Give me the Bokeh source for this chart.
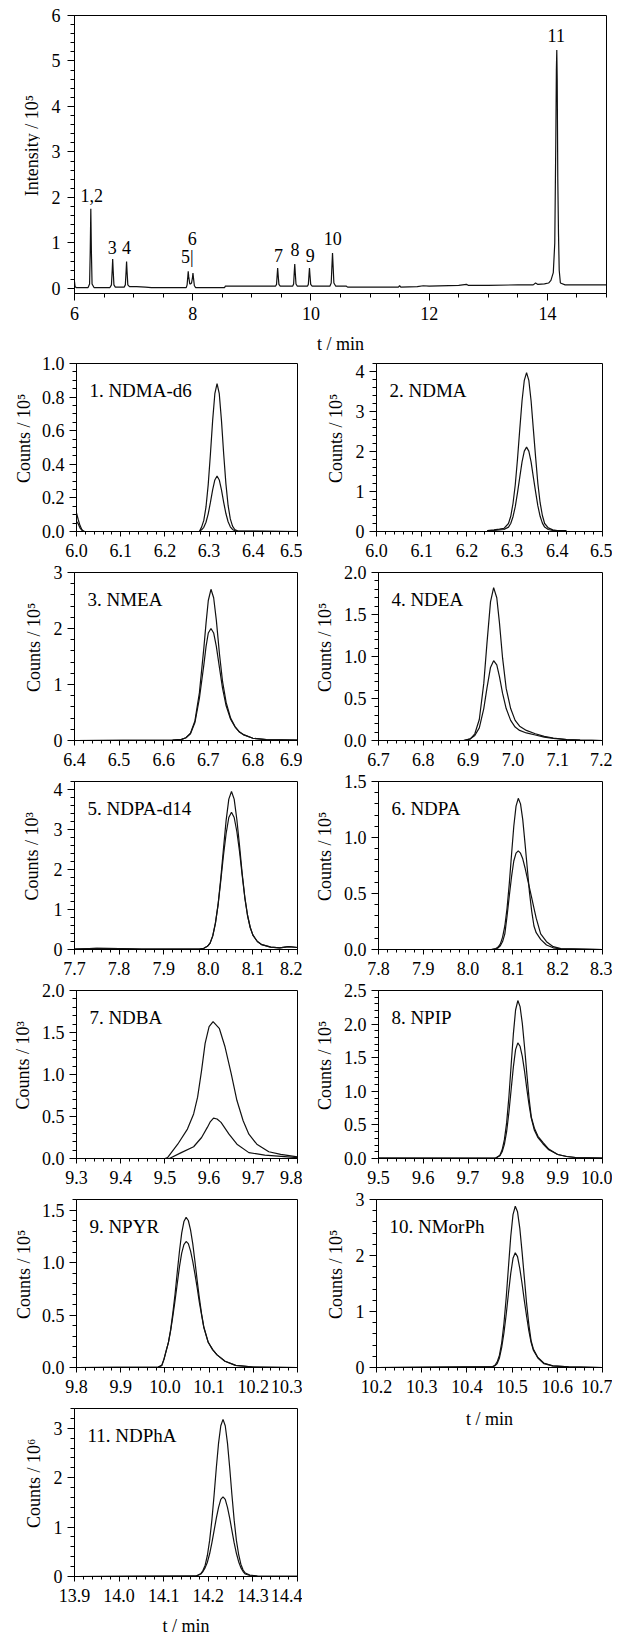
import math
from bokeh.plotting import figure
from bokeh.layouts import column, row
from bokeh.models import FixedTicker, PrintfTickFormatter, Label, Range1d
from bokeh.embed import file_html
from bokeh.resources import INLINE
from bokeh.core.properties import value

FONT = "Liberation Serif"
TICK_FS = "18px"
LAB_FS = "18px"
LINE = "#111111"

# ---------------- data: total chromatogram ----------------
tic_t = [6.00, 6.01, 6.03, 6.23, 6.255, 6.266, 6.276, 6.286, 6.297, 6.33,
         6.60, 6.625, 6.638, 6.646, 6.654, 6.667, 6.69,
         6.84, 6.86, 6.873, 6.881, 6.889, 6.902, 6.93,
         7.05, 7.20, 7.30,
         7.89, 7.905, 7.917, 7.924, 7.932, 7.95, 7.965, 7.98, 7.996, 8.004, 8.012, 8.028, 8.05,
         8.54, 8.55,
         9.40, 9.418, 9.429, 9.437, 9.445, 9.458, 9.48,
         9.69, 9.707, 9.718, 9.726, 9.734, 9.747, 9.77,
         9.94, 9.956, 9.967, 9.975, 9.983, 9.996, 10.02,
         10.32, 10.343, 10.356, 10.365, 10.374, 10.388, 10.42,
         10.60, 10.62, 11.48, 11.50, 11.52, 11.80, 11.90, 12.00, 12.50, 12.63,
         12.66, 12.70, 13.00, 13.50, 13.76, 13.80, 13.84, 13.95, 14.02,
         14.06, 14.10, 14.125, 14.142, 14.152, 14.159, 14.166, 14.176, 14.188, 14.20,
         14.22, 14.30, 15.00]
tic_y = [0.15, 0.04, 0.02, 0.02, 0.10, 0.80, 1.75, 0.80, 0.10, 0.02,
         0.02, 0.08, 0.40, 0.65, 0.40, 0.08, 0.03,
         0.03, 0.08, 0.38, 0.59, 0.38, 0.08, 0.04,
         0.04, 0.03, 0.02,
         0.02, 0.08, 0.26, 0.38, 0.26, 0.10, 0.10, 0.12, 0.24, 0.34, 0.24, 0.06, 0.02,
         0.02, 0.05,
         0.05, 0.09, 0.30, 0.45, 0.30, 0.09, 0.05,
         0.05, 0.10, 0.36, 0.54, 0.36, 0.10, 0.05,
         0.05, 0.09, 0.30, 0.45, 0.30, 0.09, 0.05,
         0.05, 0.12, 0.52, 0.78, 0.52, 0.12, 0.05,
         0.05, 0.03, 0.03, 0.06, 0.03, 0.04, 0.06, 0.05, 0.07, 0.09,
         0.07, 0.07, 0.07, 0.08, 0.08, 0.12, 0.09, 0.10, 0.12,
         0.18, 0.35, 1.00, 3.20, 4.80, 5.24, 4.60, 2.40, 1.20, 0.40,
         0.12, 0.08, 0.08]
peak_labels = ["1,2", "3", "4", "5|", "6", "7", "8", "9", "10", "11"]
peak_label_t = [6.29, 6.64, 6.88, 7.91, 7.99, 9.45, 9.73, 9.99, 10.37, 14.15]
peak_label_y = [2.04, 0.91, 0.91, 0.69, 1.09, 0.72, 0.85, 0.72, 1.10, 5.55]

# ---------------- data: extracted ion chromatograms ----------------
p1_t = [6.000, 6.004, 6.008, 6.012, 6.016, 6.020, 6.278, 6.283, 6.288, 6.293, 6.298, 6.303, 6.308,
        6.313, 6.318, 6.323, 6.328, 6.333, 6.338, 6.343, 6.348, 6.353, 6.358, 6.365, 6.500]
p1_a = [0.11, 0.07, 0.035, 0.012, 0.002, 0.0, 0.0, 0.026, 0.066, 0.146, 0.279, 0.461, 0.66,
        0.82, 0.88, 0.82, 0.66, 0.461, 0.285, 0.155, 0.075, 0.032, 0.012, 0.003, 0.0]
p1_b = [0.06, 0.045, 0.02, 0.008, 0.001, 0.0, 0.0, 0.01, 0.025, 0.055, 0.105, 0.173, 0.248,
        0.307, 0.33, 0.307, 0.248, 0.173, 0.107, 0.058, 0.028, 0.012, 0.005, 0.001, 0.0]

p2_t = [6.245, 6.260, 6.272, 6.282, 6.292, 6.297, 6.302, 6.307, 6.312, 6.317, 6.322, 6.327, 6.332,
        6.337, 6.342, 6.347, 6.352, 6.357, 6.362, 6.367, 6.372, 6.380, 6.390, 6.400, 6.420]
p2_a = [0.02, 0.04, 0.06, 0.08, 0.20, 0.38, 0.70, 1.17, 1.82, 2.56, 3.27, 3.78, 3.97,
        3.78, 3.27, 2.56, 1.86, 1.20, 0.72, 0.40, 0.20, 0.09, 0.04, 0.025, 0.02]
p2_b = [0.02, 0.03, 0.04, 0.05, 0.11, 0.20, 0.37, 0.62, 0.97, 1.36, 1.74, 2.01, 2.11,
        2.01, 1.74, 1.36, 0.99, 0.64, 0.38, 0.21, 0.11, 0.05, 0.025, 0.02, 0.015]

p3_t = [6.40, 6.62, 6.64, 6.65, 6.66, 6.67, 6.68, 6.69, 6.695, 6.70, 6.706, 6.712, 6.718,
        6.725, 6.732, 6.74, 6.75, 6.76, 6.77, 6.78, 6.80, 6.83, 6.90]
p3_a = [0.0, 0.005, 0.02, 0.05, 0.13, 0.35, 0.85, 1.65, 2.10, 2.50, 2.70, 2.55, 2.15,
        1.55, 1.05, 0.68, 0.40, 0.25, 0.15, 0.10, 0.04, 0.015, 0.005]
p3_b = [0.0, 0.005, 0.02, 0.05, 0.12, 0.32, 0.75, 1.35, 1.68, 1.92, 2.00, 1.92, 1.68,
        1.30, 0.93, 0.62, 0.38, 0.24, 0.15, 0.10, 0.04, 0.015, 0.005]

p4_t = [6.70, 6.89, 6.905, 6.915, 6.925, 6.935, 6.942, 6.950, 6.957, 6.964, 6.970, 6.977,
        6.985, 6.995, 7.005, 7.015, 7.030, 7.050, 7.070, 7.090, 7.120, 7.150, 7.200]
p4_a = [0.0, 0.0, 0.02, 0.08, 0.25, 0.68, 1.15, 1.65, 1.82, 1.70, 1.40, 0.98,
        0.62, 0.38, 0.24, 0.17, 0.12, 0.08, 0.05, 0.03, 0.01, 0.005, 0.0]
p4_b = [0.0, 0.0, 0.02, 0.06, 0.15, 0.38, 0.62, 0.87, 0.95, 0.90, 0.76, 0.56,
        0.38, 0.24, 0.16, 0.12, 0.09, 0.065, 0.04, 0.025, 0.01, 0.005, 0.0]

p5_t = [7.70, 7.75, 7.80, 7.85, 7.90, 7.95, 7.98, 7.99, 7.998, 8.004, 8.010, 8.016, 8.022,
        8.028, 8.034, 8.040, 8.046, 8.052, 8.058, 8.064, 8.070, 8.076, 8.082, 8.088,
        8.094, 8.100, 8.110, 8.120, 8.140, 8.160, 8.180, 8.200]
p5_a = [0.01, 0.03, 0.02, 0.01, 0.01, 0.01, 0.01, 0.03, 0.08, 0.16, 0.34, 0.66, 1.13,
        1.78, 2.52, 3.23, 3.76, 3.95, 3.76, 3.25, 2.60, 1.90, 1.30, 0.85,
        0.55, 0.36, 0.20, 0.12, 0.06, 0.04, 0.07, 0.05]
p5_b = [0.01, 0.03, 0.02, 0.01, 0.01, 0.01, 0.01, 0.03, 0.08, 0.16, 0.34, 0.66, 1.12,
        1.72, 2.35, 2.90, 3.30, 3.43, 3.30, 2.95, 2.45, 1.85, 1.28, 0.85,
        0.55, 0.36, 0.20, 0.12, 0.06, 0.04, 0.07, 0.05]

p6_t = [7.80, 8.052, 8.062, 8.067, 8.072, 8.077, 8.082, 8.087, 8.092, 8.097, 8.102, 8.107, 8.112,
        8.117, 8.122, 8.127, 8.132, 8.137, 8.142, 8.147, 8.152, 8.162, 8.175, 8.190, 8.207, 8.300]
p6_a = [0.0, 0.0, 0.008, 0.022, 0.05, 0.11, 0.21, 0.37, 0.59, 0.85, 1.10, 1.28, 1.35,
        1.30, 1.16, 0.95, 0.73, 0.51, 0.34, 0.21, 0.15, 0.09, 0.04, 0.015, 0.005, 0.0]
p6_b = [0.0, 0.0, 0.005, 0.014, 0.033, 0.071, 0.14, 0.30, 0.48, 0.65, 0.79, 0.86, 0.88,
        0.86, 0.81, 0.73, 0.64, 0.55, 0.46, 0.37, 0.28, 0.14, 0.07, 0.025, 0.008, 0.0]

p7_ta = [9.30, 9.50, 9.506, 9.529, 9.551, 9.565, 9.574, 9.583, 9.591, 9.600, 9.609,
         9.623, 9.636, 9.650, 9.663, 9.677, 9.690, 9.708, 9.735, 9.762, 9.800]
p7_a = [0.0, 0.0, 0.01, 0.17, 0.35, 0.53, 0.73, 1.05, 1.37, 1.57, 1.63,
        1.55, 1.33, 1.01, 0.69, 0.45, 0.29, 0.17, 0.08, 0.05, 0.02]
p7_tb = [9.30, 9.51, 9.537, 9.565, 9.583, 9.596, 9.603, 9.610, 9.618, 9.627, 9.645,
         9.663, 9.690, 9.726, 9.800]
p7_b = [0.0, 0.0, 0.07, 0.14, 0.25, 0.37, 0.44, 0.48, 0.47, 0.43, 0.29,
        0.17, 0.07, 0.04, 0.01]

p8_t = [9.50, 9.761, 9.771, 9.776, 9.781, 9.786, 9.791, 9.796, 9.801, 9.806, 9.811,
        9.816, 9.821, 9.826, 9.831, 9.836, 9.841, 9.848, 9.856, 9.867, 9.880, 9.900,
        9.920, 9.940, 10.0]
p8_a = [0.005, 0.005, 0.05, 0.13, 0.28, 0.53, 0.91, 1.38, 1.85, 2.21, 2.35,
        2.26, 2.01, 1.66, 1.27, 0.90, 0.62, 0.45, 0.33, 0.24, 0.14, 0.06,
        0.03, 0.015, 0.005]
p8_b = [0.005, 0.004, 0.04, 0.10, 0.21, 0.40, 0.68, 1.02, 1.36, 1.62, 1.72,
        1.67, 1.52, 1.30, 1.04, 0.80, 0.60, 0.42, 0.31, 0.22, 0.13, 0.06,
        0.03, 0.015, 0.005]

p9_t = [9.80, 9.985, 9.993, 9.998, 10.003, 10.008, 10.013, 10.018, 10.023, 10.028, 10.033,
        10.038, 10.043, 10.048, 10.053, 10.058, 10.063, 10.068, 10.073, 10.078, 10.083,
        10.088, 10.098, 10.108, 10.118, 10.136, 10.160, 10.200, 10.300]
p9_a = [0.0, 0.005, 0.02, 0.08, 0.16, 0.24, 0.36, 0.52, 0.70, 0.91, 1.11,
        1.28, 1.39, 1.43, 1.40, 1.31, 1.18, 1.01, 0.83, 0.66, 0.51,
        0.39, 0.24, 0.17, 0.12, 0.06, 0.02, 0.005, 0.0]
p9_b = [0.0, 0.005, 0.02, 0.08, 0.16, 0.24, 0.35, 0.49, 0.64, 0.80, 0.96,
        1.09, 1.17, 1.20, 1.18, 1.11, 1.01, 0.89, 0.76, 0.62, 0.50,
        0.38, 0.24, 0.17, 0.12, 0.06, 0.02, 0.005, 0.0]

p10_t = [10.20, 10.457, 10.462, 10.467, 10.472, 10.477, 10.482, 10.487, 10.492, 10.497, 10.502,
         10.507, 10.512, 10.517, 10.522, 10.527, 10.532, 10.537, 10.542, 10.547, 10.557,
         10.570, 10.590, 10.625, 10.70]
p10_a = [0.0, 0.016, 0.04, 0.10, 0.22, 0.44, 0.79, 1.25, 1.80, 2.34, 2.73,
         2.88, 2.78, 2.49, 2.07, 1.61, 1.15, 0.77, 0.48, 0.33, 0.18,
         0.08, 0.03, 0.01, 0.0]
p10_b = [0.0, 0.01, 0.03, 0.07, 0.17, 0.36, 0.62, 0.95, 1.33, 1.68, 1.95,
         2.05, 1.98, 1.77, 1.50, 1.20, 0.92, 0.66, 0.45, 0.31, 0.17,
         0.07, 0.03, 0.01, 0.0]

p11_t = [13.90, 14.173, 14.183, 14.188, 14.193, 14.198, 14.203, 14.208, 14.213, 14.218, 14.223,
         14.228, 14.233, 14.238, 14.243, 14.248, 14.253, 14.258, 14.263, 14.268, 14.273,
         14.278, 14.283, 14.293, 14.310, 14.400]
p11_a = [0.0, 0.01, 0.054, 0.12, 0.23, 0.43, 0.73, 1.14, 1.65, 2.20, 2.70,
         3.05, 3.18, 3.05, 2.70, 2.20, 1.65, 1.14, 0.73, 0.45, 0.25,
         0.13, 0.07, 0.03, 0.01, 0.005]
p11_b = [0.0, 0.011, 0.05, 0.10, 0.18, 0.29, 0.46, 0.68, 0.93, 1.18, 1.40,
         1.56, 1.61, 1.56, 1.40, 1.18, 0.93, 0.68, 0.47, 0.30, 0.18,
         0.10, 0.05, 0.02, 0.01, 0.005]

panel_titles = ["1. NDMA-d6", "2. NDMA", "3. NMEA", "4. NDEA", "5. NDPA-d14", "6. NDPA",
                "7. NDBA", "8. NPIP", "9. NPYR", "10. NMorPh", "11. NDPhA"]
panel_xstart = [6.0, 6.0, 6.4, 6.7, 7.7, 7.8, 9.3, 9.5, 9.8, 10.2, 13.9]
panel_ymax = [1.0, 4.2, 3.0, 2.0, 4.2, 1.5, 2.0, 2.5, 1.6, 3.0, 3.4]
panel_ystep = [0.2, 1, 1, 0.5, 1, 0.5, 0.5, 0.5, 0.5, 1, 1]
panel_yminor = [0.05, 0.2, 0.2, 0.1, 0.2, 0.1, 0.1, 0.1, 0.1, 0.2, 0.2]
panel_ylabel = ["Counts / 10⁵", "Counts / 10⁵", "Counts / 10⁵", "Counts / 10⁵",
                "Counts / 10³", "Counts / 10⁵", "Counts / 10³", "Counts / 10⁵",
                "Counts / 10⁵", "Counts / 10⁵", "Counts / 10⁶"]
panel_traces = [((p1_t, p1_a), (p1_t, p1_b)), ((p2_t, p2_a), (p2_t, p2_b)),
                ((p3_t, p3_a), (p3_t, p3_b)), ((p4_t, p4_a), (p4_t, p4_b)),
                ((p5_t, p5_a), (p5_t, p5_b)), ((p6_t, p6_a), (p6_t, p6_b)),
                ((p7_ta, p7_a), (p7_tb, p7_b)), ((p8_t, p8_a), (p8_t, p8_b)),
                ((p9_t, p9_a), (p9_t, p9_b)), ((p10_t, p10_a), (p10_t, p10_b)),
                ((p11_t, p11_a), (p11_t, p11_b))]
xlabel_text = "t / min"
top_ylabel = "Intensity / 10⁵"

# layout constants (pixels)
YL_W = [38, 50, 50, 38, 50, 38, 38, 38, 38, 50, 50]   # strip holding each y-axis title
YL_X = [23, 33, 33, 22, 31, 22, 22, 22, 23, 33, 33]   # title centre inside strip
PANEL_H = 209
PANEL_TOP = 9
PANEL_FH = 168


def seq(a, b, step):
    n = int(round((b - a) / step + 1e-9))
    return [round(a + i * step, 4) for i in range(n + 1) if a + i * step <= b + 1e-9]


def style_axis(ax, ticks, minor, fmt, tick_out, minor_out, standoff):
    ax.ticker = FixedTicker(ticks=ticks, minor_ticks=minor)
    ax.formatter = PrintfTickFormatter(format=fmt)
    ax.major_tick_out = tick_out
    ax.major_tick_in = 0
    ax.minor_tick_out = minor_out
    ax.minor_tick_in = 0
    ax.major_tick_line_color = "black"
    ax.minor_tick_line_color = "black"
    ax.axis_line_color = "black"
    ax.major_label_text_font = FONT
    ax.major_label_text_font_size = TICK_FS
    ax.major_label_text_color = "black"
    ax.major_label_standoff = standoff


def base_fig(w, h, bl, br, bt, bb, xr, yr):
    p = figure(width=w, height=h, min_border_left=bl, min_border_right=br,
               min_border_top=bt, min_border_bottom=bb, x_range=Range1d(*xr),
               y_range=Range1d(*yr), output_backend="svg", toolbar_location=None)
    p.grid.visible = False
    p.outline_line_color = "black"
    p.outline_line_alpha = 1.0
    p.outline_line_width = 1
    p.background_fill_color = "white"
    p.border_fill_color = "white"
    return p


def text_strip(w, h, text, x, y, angle):
    """A bare figure (no axes, no border) whose frame is the whole strip; x, y in px."""
    s = figure(width=w, height=h, x_range=Range1d(0, w), y_range=Range1d(0, h),
               x_axis_type=None, y_axis_type=None, min_border=0,
               output_backend="svg", toolbar_location=None)
    s.outline_line_color = None
    s.background_fill_color = "white"
    s.border_fill_color = "white"
    s.text(x=[x], y=[y], text=[text], angle=angle, text_font=value(FONT),
           text_font_size=value(LAB_FS), text_align="center", text_baseline="middle",
           text_color="black")
    return s


# ---------------- top chromatogram ----------------
TOP_H = 329
top = base_fig(574, TOP_H, 34, 8, 15, 36, (6, 15), (-0.11, 6))
top.line(tic_t, tic_y, line_color=LINE, line_width=1.2)
top.text(x=peak_label_t, y=peak_label_y, text=peak_labels, text_font=value(FONT),
         text_font_size=value("18px"), text_align="center", text_baseline="middle",
         text_color="black")
style_axis(top.xaxis[0], [6, 8, 10, 12, 14], seq(6, 15, 0.5), "%d", 7, 4, 6)
style_axis(top.yaxis[0], seq(0, 6, 1), seq(0, 6, 0.2), "%d", 7, 4, 7)
top_yl = text_strip(40, TOP_H, top_ylabel, 31, TOP_H - (15 + 139), math.pi / 2)
top_xl = text_strip(614, 25, xlabel_text, 340, 11, 0)
top_block = column(row(top_yl, top), top_xl)

# ---------------- panels ----------------
rows = []
for i in range(11):
    col = i % 2
    fw = 223 if col == 0 else 226
    br = 5 if col == 0 else 10
    bl = 74 - YL_W[i]
    x0 = panel_xstart[i]
    x1 = round(x0 + 0.5, 2)
    ymax = panel_ymax[i]
    p = base_fig(bl + fw + br, PANEL_H, bl, br, PANEL_TOP, PANEL_H - PANEL_TOP - PANEL_FH,
                 (x0, x1), (0, ymax))
    for (tt, yy) in panel_traces[i]:
        p.line(tt, yy, line_color=LINE, line_width=1.2)
    yfmt = "%.1f" if panel_ystep[i] < 1 else "%d"
    style_axis(p.xaxis[0], seq(x0, x1, 0.1), seq(x0, x1, 0.02), "%.1f", 5, 3, 7)
    style_axis(p.yaxis[0], seq(0, ymax, panel_ystep[i]), seq(0, ymax, panel_yminor[i]),
               yfmt, 7, 4, 5)
    p.add_layout(Label(x=x0 + 0.5 * 13 / fw, y=ymax * (1 - 27 / 168), text=panel_titles[i],
                       text_font=FONT, text_font_size="19px", text_baseline="middle",
                       text_align="left", text_color="black"))
    yl = text_strip(YL_W[i], PANEL_H, panel_ylabel[i], YL_X[i],
                    PANEL_H - (PANEL_TOP + PANEL_FH / 2), math.pi / 2)
    rows.append(row(yl, p))

left_items = [rows[i] for i in range(0, 11, 2)]
left_items.append(text_strip(302, 27, xlabel_text, 74 + 111.5, 10, 0))
right_items = [rows[i] for i in range(1, 11, 2)]
right_items.append(text_strip(310, 30, xlabel_text, 74 + 113, 11, 0))

layout = column(top_block, row(column(*left_items), column(*right_items)))

open("out.html", "w").write(file_html(layout, INLINE))
